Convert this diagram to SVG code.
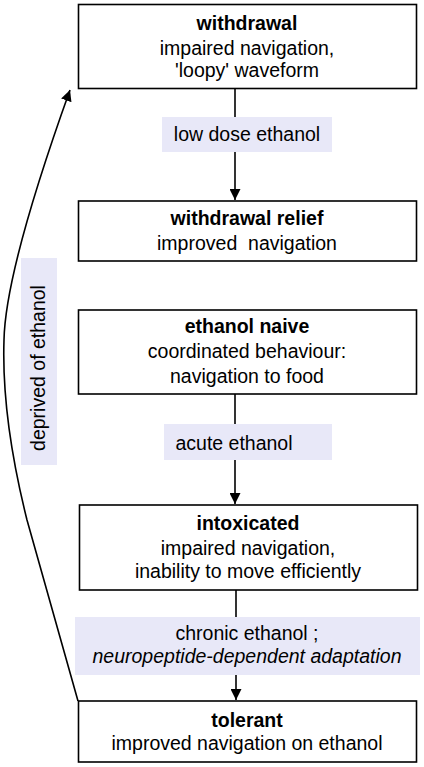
<svg xmlns="http://www.w3.org/2000/svg" width="424" height="767" viewBox="0 0 424 767">
<style>
.box{fill:#fff;stroke:#000;stroke-width:1.6}
.lbl{fill:#e8e8f8}
text{font-family:"Liberation Sans",Arial,sans-serif;font-size:19.5px;fill:#000;text-anchor:middle}
.b{font-weight:bold}
.i{font-style:italic}
.c{fill:none;stroke:#000;stroke-width:1.6}
</style>
<defs>
<marker id="ah" viewBox="0 0 10 10" refX="10" refY="5" markerWidth="11" markerHeight="11" markerUnits="userSpaceOnUse" orient="auto">
<path d="M0,0 L10,5 L0,10 z" fill="#000"/>
</marker>
</defs>
<g id="connectors">
<line class="c" x1="235" y1="88" x2="235" y2="117"/>
<line class="c" x1="235" y1="152" x2="235" y2="200" marker-end="url(#ah)"/>
<line class="c" x1="235" y1="394" x2="235" y2="424"/>
<line class="c" x1="235" y1="460" x2="235" y2="504" marker-end="url(#ah)"/>
<line class="c" x1="236" y1="590" x2="236" y2="617"/>
<line class="c" x1="236" y1="675" x2="236" y2="700" marker-end="url(#ah)"/>
<path class="c" d="M78,701 L27,520 C12,460 2,400 4,340 C5,290 32,196 70,90" marker-end="url(#ah)"/>
</g>
<g id="label-low-dose">
<rect class="lbl" x="162" y="117" width="170" height="35"/>
<text x="247" y="141">low dose ethanol</text>
</g>
<g id="label-acute">
<rect class="lbl" x="164" y="424" width="168" height="36"/>
<text x="234" y="450">acute ethanol</text>
</g>
<g id="label-chronic">
<rect class="lbl" x="75" y="617" width="345" height="58"/>
<text x="247" y="640">chronic ethanol ;</text>
<text class="i" x="247" y="663">neuropeptide-dependent adaptation</text>
</g>
<g id="label-deprived">
<rect class="lbl" x="21" y="258" width="36" height="207"/>
<text transform="translate(45,368) rotate(-90)">deprived of ethanol</text>
</g>
<g id="withdrawal">
<rect class="box" x="78.5" y="4.5" width="338" height="84"/>
<text class="b" x="247" y="30">withdrawal</text>
<text x="247" y="55">impaired navigation,</text>
<text x="247" y="77">'loopy' waveform</text>
</g>
<g id="withdrawal-relief">
<rect class="box" x="78.5" y="201" width="338" height="60"/>
<text class="b" x="247" y="225">withdrawal relief</text>
<text x="247" y="250" style="white-space:pre">improved  navigation</text>
</g>
<g id="ethanol-naive">
<rect class="box" x="78.5" y="310" width="338" height="84"/>
<text class="b" x="247" y="333">ethanol naive</text>
<text x="247" y="358">coordinated behaviour:</text>
<text x="247" y="383">navigation to food</text>
</g>
<g id="intoxicated">
<rect class="box" x="79.5" y="505" width="338" height="85"/>
<text class="b" x="248" y="530">intoxicated</text>
<text x="248" y="555">impaired navigation,</text>
<text x="248" y="578">inability to move efficiently</text>
</g>
<g id="tolerant">
<rect class="box" x="78.5" y="701" width="338" height="61"/>
<text class="b" x="247" y="727">tolerant</text>
<text x="247" y="750">improved navigation on ethanol</text>
</g>
</svg>
